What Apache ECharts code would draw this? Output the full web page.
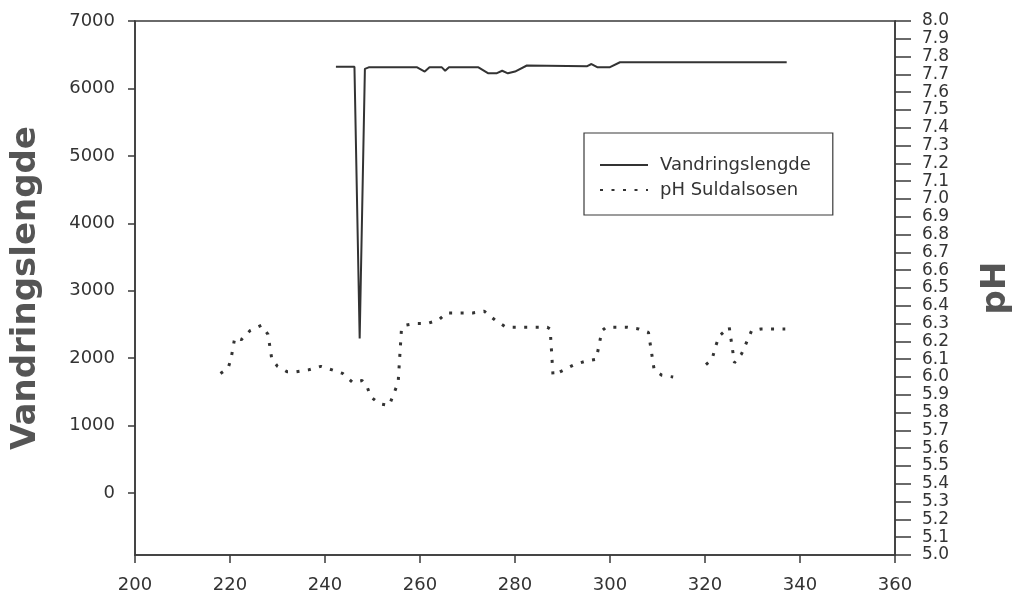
<!DOCTYPE html>
<html>
<head>
<meta charset="utf-8">
<script src="https://cdn.jsdelivr.net/npm/echarts@6/dist/echarts.min.js"></script>
<style>
  html, body { margin: 0; padding: 0; background: #fff; }
  #chart { width: 1015px; height: 597px; }
</style>
</head>
<body>
<div id="chart"></div>
<script>
// Day of year for each reading
const vandDays = [242.3, 246.2, 247.3, 248.4, 249.2, 259.4, 261, 262, 264.6, 265.3, 266.1, 272.3, 274.3, 276.2, 277.3, 278.5, 280, 282.5, 295.2, 296.1, 297.3, 300, 302.1, 337.2];
// Migration distance (left axis)
const vandValues = [6320, 6320, 2290, 6290, 6313, 6313, 6250, 6313, 6313, 6262, 6313, 6313, 6226, 6226, 6262, 6224, 6250, 6340, 6330, 6362, 6315, 6315, 6388, 6388];

const phDays = [218, 219.6, 220.2, 221, 222.4, 224.2, 226.6, 228, 228.8, 230, 232, 234, 236.5, 239.1, 241.5, 243.7, 245.8, 247.8, 248.8, 249.6, 251.4, 253.5, 254.4, 255.4, 256.1, 256.8, 259, 261.4, 263.9, 265.6, 271.1, 273.5, 275.8, 278.1, 286.8, 287.4, 288, 290.3, 292.5, 295, 297.1, 298.3, 299.2, 303.5, 306, 308.1, 309.3, 310.9, 313.3, 316, 320.2, 321.5, 322.2, 323, 325.1, 326.2, 327.7, 329.8, 331.8, 334.3, 336.9];
// pH in Suldalsosen (right axis); null marks days without readings
const phValues = [6.02, 6.05, 6.1, 6.22, 6.21, 6.26, 6.29, 6.24, 6.1, 6.06, 6.03, 6.03, 6.04, 6.06, 6.04, 6.02, 5.97, 5.98, 5.95, 5.89, 5.85, 5.84, 5.9, 5.97, 6.27, 6.29, 6.3, 6.3, 6.32, 6.36, 6.36, 6.37, 6.32, 6.28, 6.28, 6.27, 6.01, 6.04, 6.07, 6.09, 6.1, 6.26, 6.28, 6.28, 6.27, 6.25, 6.04, 6.01, 6.0, null, 6.07, 6.1, 6.17, 6.23, 6.28, 6.08, 6.13, 6.26, 6.27, 6.27, 6.27];

const xTicks = [200, 220, 240, 260, 280, 300, 320, 340, 360];
const leftTicks = [0, 1000, 2000, 3000, 4000, 5000, 6000, 7000];

const pair = (xs, ys) => xs.map((x, i) => [x, ys[i]]);

const FONT = '"DejaVu Sans", Verdana, sans-serif';
const INK = '#333';
const AXIS = '#3a3a3a';

const chart = echarts.init(document.getElementById('chart'), null, { renderer: 'canvas' });

chart.setOption({
  backgroundColor: '#fff',
  animation: false,
  textStyle: { fontFamily: FONT },
  grid: {
    left: 135, right: 120, top: 21, bottom: 42,
    containLabel: false,
    outerBoundsMode: 'none',
    show: true, borderColor: AXIS, borderWidth: 1.5, backgroundColor: 'transparent'
  },
  legend: {
    orient: 'vertical',
    left: 584, top: 133,
    padding: [22, 22, 15, 15],
    itemWidth: 48, itemHeight: 14, itemGap: 5,
    borderColor: AXIS, borderWidth: 1.2,
    itemStyle: { opacity: 0 },
    textStyle: { fontSize: 18, color: INK, fontFamily: FONT, lineHeight: 20, padding: [0, 0, 0, 7] },
    data: ['Vandringslengde', 'pH Suldalsosen']
  },
  xAxis: {
    type: 'value',
    min: xTicks[0], max: xTicks[xTicks.length - 1], interval: 20,
    axisLine: { show: true, onZero: false, lineStyle: { color: AXIS, width: 1.5 } },
    axisTick: { show: true, length: 8, lineStyle: { color: AXIS, width: 1.5 } },
    axisLabel: { fontSize: 18, color: INK, margin: 21, fontFamily: FONT },
    splitLine: { show: false }
  },
  yAxis: [
    {
      type: 'value',
      position: 'left',
      min: -920, max: 7000,
      name: 'Vandringslengde',
      nameLocation: 'middle',
      nameGap: 92,
      nameTextStyle: { fontSize: 34, fontWeight: 'bold', color: '#555', fontFamily: FONT },
      axisLine: { show: true, onZero: false, lineStyle: { color: AXIS, width: 1.5 } },
      axisTick: { show: true, length: 7, customValues: leftTicks, lineStyle: { color: AXIS, width: 1.5 } },
      axisLabel: { fontSize: 18, color: INK, margin: 20, customValues: leftTicks, fontFamily: FONT, formatter: v => String(v) },
      splitLine: { show: false }
    },
    {
      type: 'value',
      position: 'right',
      min: 5, max: 8, interval: 0.1,
      name: 'pH',
      nameLocation: 'middle',
      nameGap: 84,
      nameRotate: 90,
      nameTextStyle: { fontSize: 34, fontWeight: 'bold', color: '#555', fontFamily: FONT },
      axisLine: { show: true, onZero: false, lineStyle: { color: AXIS, width: 1.5 } },
      axisTick: { show: true, length: 16, lineStyle: { color: AXIS, width: 1.5 } },
      axisLabel: {
        fontSize: 17, color: INK, margin: 27, fontFamily: FONT,
        formatter: v => v.toFixed(1)
      },
      splitLine: { show: false }
    }
  ],
  series: [
    {
      name: 'Vandringslengde',
      type: 'line',
      yAxisIndex: 0,
      symbol: 'none',
      data: pair(vandDays, vandValues),
      lineStyle: { color: INK, width: 2 },
      itemStyle: { color: INK }
    },
    {
      name: 'pH Suldalsosen',
      type: 'line',
      yAxisIndex: 1,
      symbol: 'none',
      connectNulls: false,
      data: pair(phDays, phValues),
      lineStyle: { color: INK, width: 3, type: [3, 8.5], cap: 'butt' },
      itemStyle: { color: INK }
    }
  ]
});
</script>
</body>
</html>
